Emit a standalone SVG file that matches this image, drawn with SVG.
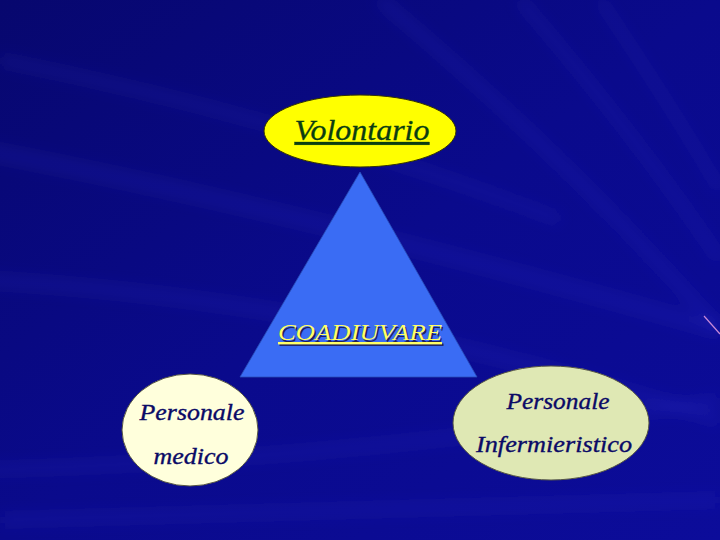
<svg xmlns="http://www.w3.org/2000/svg" width="720" height="540" viewBox="0 0 720 540">
<defs>
<linearGradient id="bg" x1="0" y1="0" x2="1" y2="1">
<stop offset="0" stop-color="#07076e"/>
<stop offset="0.5" stop-color="#0a0a8c"/>
<stop offset="1" stop-color="#0c0c9a"/>
</linearGradient>
<filter id="blur" x="-20%" y="-20%" width="140%" height="140%"><feGaussianBlur stdDeviation="7"/></filter>
<style>
.lbl{font-family:'Liberation Serif','Times New Roman',serif;font-style:italic;text-anchor:middle}
.nav{fill:#0a0a66;font-size:24px;stroke:#0a0a66;stroke-width:0.35}
</style>
</defs>
<rect width="720" height="540" fill="url(#bg)"/>
<g id="streaks" fill="none" stroke="#3a3ad0" stroke-opacity="0.18" filter="url(#blur)">
<path d="M-20 150 Q300 210 720 330" stroke-width="14"/>
<path d="M-20 280 Q350 300 720 420" stroke-width="12"/>
<path d="M-20 470 Q360 460 720 400" stroke-width="10"/>
<path d="M380 0 Q560 150 720 330" stroke-width="12"/>
<path d="M520 0 Q640 140 720 260" stroke-width="10"/>
<path d="M600 0 Q680 120 720 190" stroke-width="8"/>
<path d="M0 60 Q300 120 560 220" stroke-width="10"/>
<path d="M0 520 Q360 510 720 500" stroke-width="10"/>
</g>
<line x1="704" y1="316" x2="720" y2="334" stroke="#c98ad8" stroke-width="1.2"/>
<g id="coadiuvare">
<polygon points="360,172 240,377 477,377" fill="#3a6cf4" stroke="#2a4fb8" stroke-width="0.8"/>
<text class="lbl" x="361.5" y="341.5" font-size="24" textLength="164" lengthAdjust="spacingAndGlyphs" fill="#20205a" text-decoration="underline">COADIUVARE</text>
<text class="lbl" x="360" y="340" font-size="24" textLength="164" lengthAdjust="spacingAndGlyphs" fill="#ffff66" text-decoration="underline">COADIUVARE</text>
</g>
<g id="volontario">
<ellipse cx="360" cy="131" rx="96" ry="36" fill="#ffff00" stroke="#333300" stroke-width="1"/>
<text class="lbl" x="362" y="140" font-size="29" textLength="135" lengthAdjust="spacingAndGlyphs" fill="#0b3d12" stroke="#0b3d12" stroke-width="0.3" text-decoration="underline">Volontario</text>
</g>
<g id="medico">
<ellipse cx="190" cy="430" rx="68" ry="56" fill="#ffffdc" stroke="#555544" stroke-width="1"/>
<text class="lbl nav" x="192" y="420" textLength="105" lengthAdjust="spacingAndGlyphs">Personale</text>
<text class="lbl nav" x="191" y="464" textLength="75" lengthAdjust="spacingAndGlyphs">medico</text>
</g>
<g id="infermieristico">
<ellipse cx="551" cy="423" rx="98" ry="57" fill="#dfe8b4" stroke="#555544" stroke-width="1"/>
<text class="lbl nav" x="558" y="409" textLength="103" lengthAdjust="spacingAndGlyphs">Personale</text>
<text class="lbl nav" x="554" y="452" textLength="156" lengthAdjust="spacingAndGlyphs">Infermieristico</text>
</g>
<g id="connectors"/>
</svg>
